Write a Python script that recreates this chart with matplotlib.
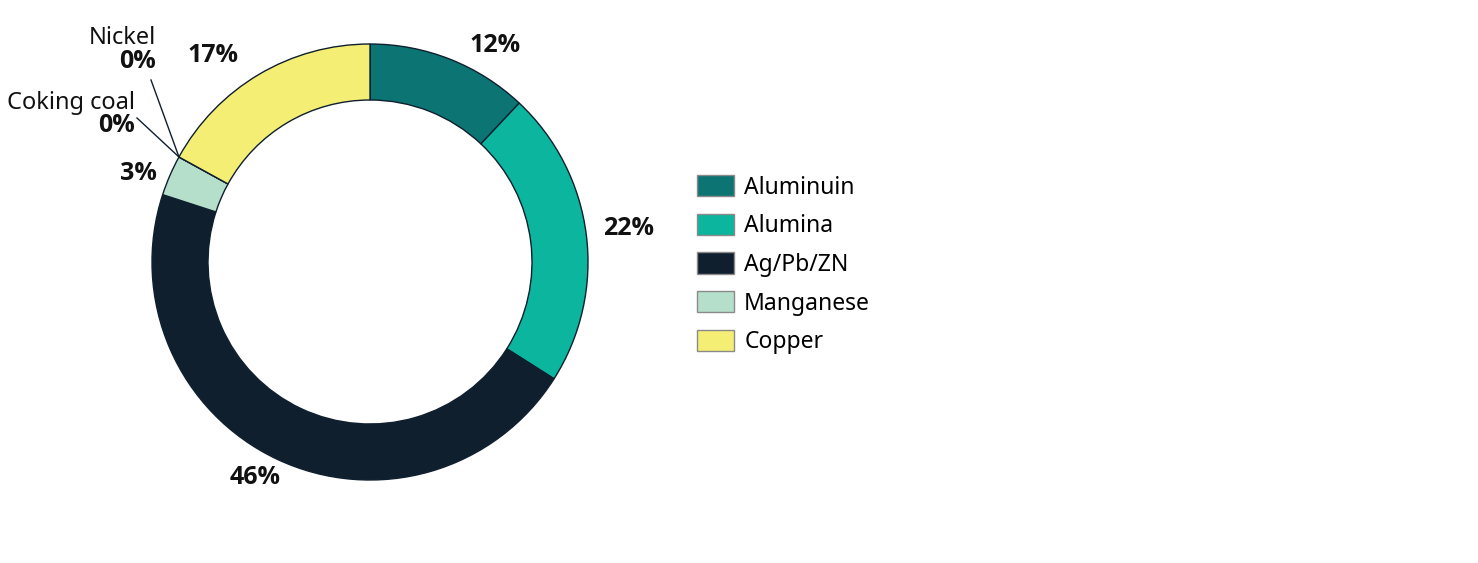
import numpy as np
import matplotlib
matplotlib.use('Agg')
import matplotlib.pyplot as plt
import matplotlib.patches as mpatches

plt.rcParams['font.family'] = ['Noto Sans', 'DejaVu Sans']
BOLD = ['Open Sans', 'DejaVu Sans']

# ── Data ──────────────────────────────────────
categories = ['Aluminuin', 'Alumina', 'Ag/Pb/ZN', 'Manganese', 'Coking coal', 'Nickel', 'Copper']
shares = [12, 22, 46, 3, 0, 0, 17]
colors = ['#0c7473', '#0bb59e', '#0f1f2e', '#b5dfcb', '#b5dfcb', '#f5ee75', '#f5ee75']
legend_items = ['Aluminuin', 'Alumina', 'Ag/Pb/ZN', 'Manganese', 'Copper']

EDGE = '#0f1f2e'
R_OUT, RING = 218, 56

fig = plt.figure(figsize=(14.78, 5.63), dpi=100)
# axes measured in pixels, donut centre at (370, 262) from top-left
W = 1478; H = 563
half = 260
ax = fig.add_axes([(370 - half) / W, (H - 262 - half) / H, 2 * half / W, 2 * half / H])

vals = np.array(shares, dtype=float)
wedges, _ = ax.pie(vals, colors=colors, radius=R_OUT, startangle=90, counterclock=False,
                   wedgeprops=dict(width=RING, edgecolor=EDGE, linewidth=1))
ax.set_xlim(-half, half)
ax.set_ylim(-half, half)
ax.set_aspect('equal')
ax.axis('off')

# angle (deg from 12 o'clock, clockwise) of each slice end
cum = np.cumsum(vals) / vals.sum() * 360

# label placements: (angle, radius) per slice
place = {0: (30, 250), 1: (82.7, 261), 2: (208, 244), 3: (291, 248), 6: (322.7, 259)}
for i, (ang, r) in place.items():
    a = np.deg2rad(ang)
    ax.text(r * np.sin(a), r * np.cos(a), f'{shares[i]}%', ha='center', va='center',
            fontsize=18, fontweight='bold', family=BOLD, color='#111111')

# zero-size slices with leader lines
a0 = np.deg2rad(cum[4])
p0 = (R_OUT * np.sin(a0), R_OUT * np.cos(a0))
ax.plot([p0[0], 137 - 370], [p0[1], 262 - 118], color=EDGE, lw=1)
ax.plot([p0[0], 151 - 370], [p0[1], 262 - 80], color=EDGE, lw=1)
ax.text(135 - 370, 262 - 103, categories[4], ha='right', va='center', fontsize=17, color='#111111')
ax.text(135 - 370, 262 - 126, f'{shares[4]}%', ha='right', va='center', fontsize=18,
        fontweight='bold', family=BOLD, color='#111111')
ax.text(156 - 370, 262 - 38, categories[5], ha='right', va='center', fontsize=17, color='#111111')
ax.text(156 - 370, 262 - 62, f'{shares[5]}%', ha='right', va='center', fontsize=18,
        fontweight='bold', family=BOLD, color='#111111')

# legend
handles = [mpatches.Patch(facecolor=colors[categories.index(n)], edgecolor='#8a8a8a', linewidth=1)
           for n in legend_items]
fig.legend(handles, legend_items, loc='upper left', bbox_to_anchor=(688 / W, 1 - 166 / H),
           frameon=False, fontsize=16.5, handlelength=1.6, handleheight=1.05,
           labelspacing=0.62, handletextpad=0.45, borderaxespad=0)

plt.savefig('out.png', dpi=100)
